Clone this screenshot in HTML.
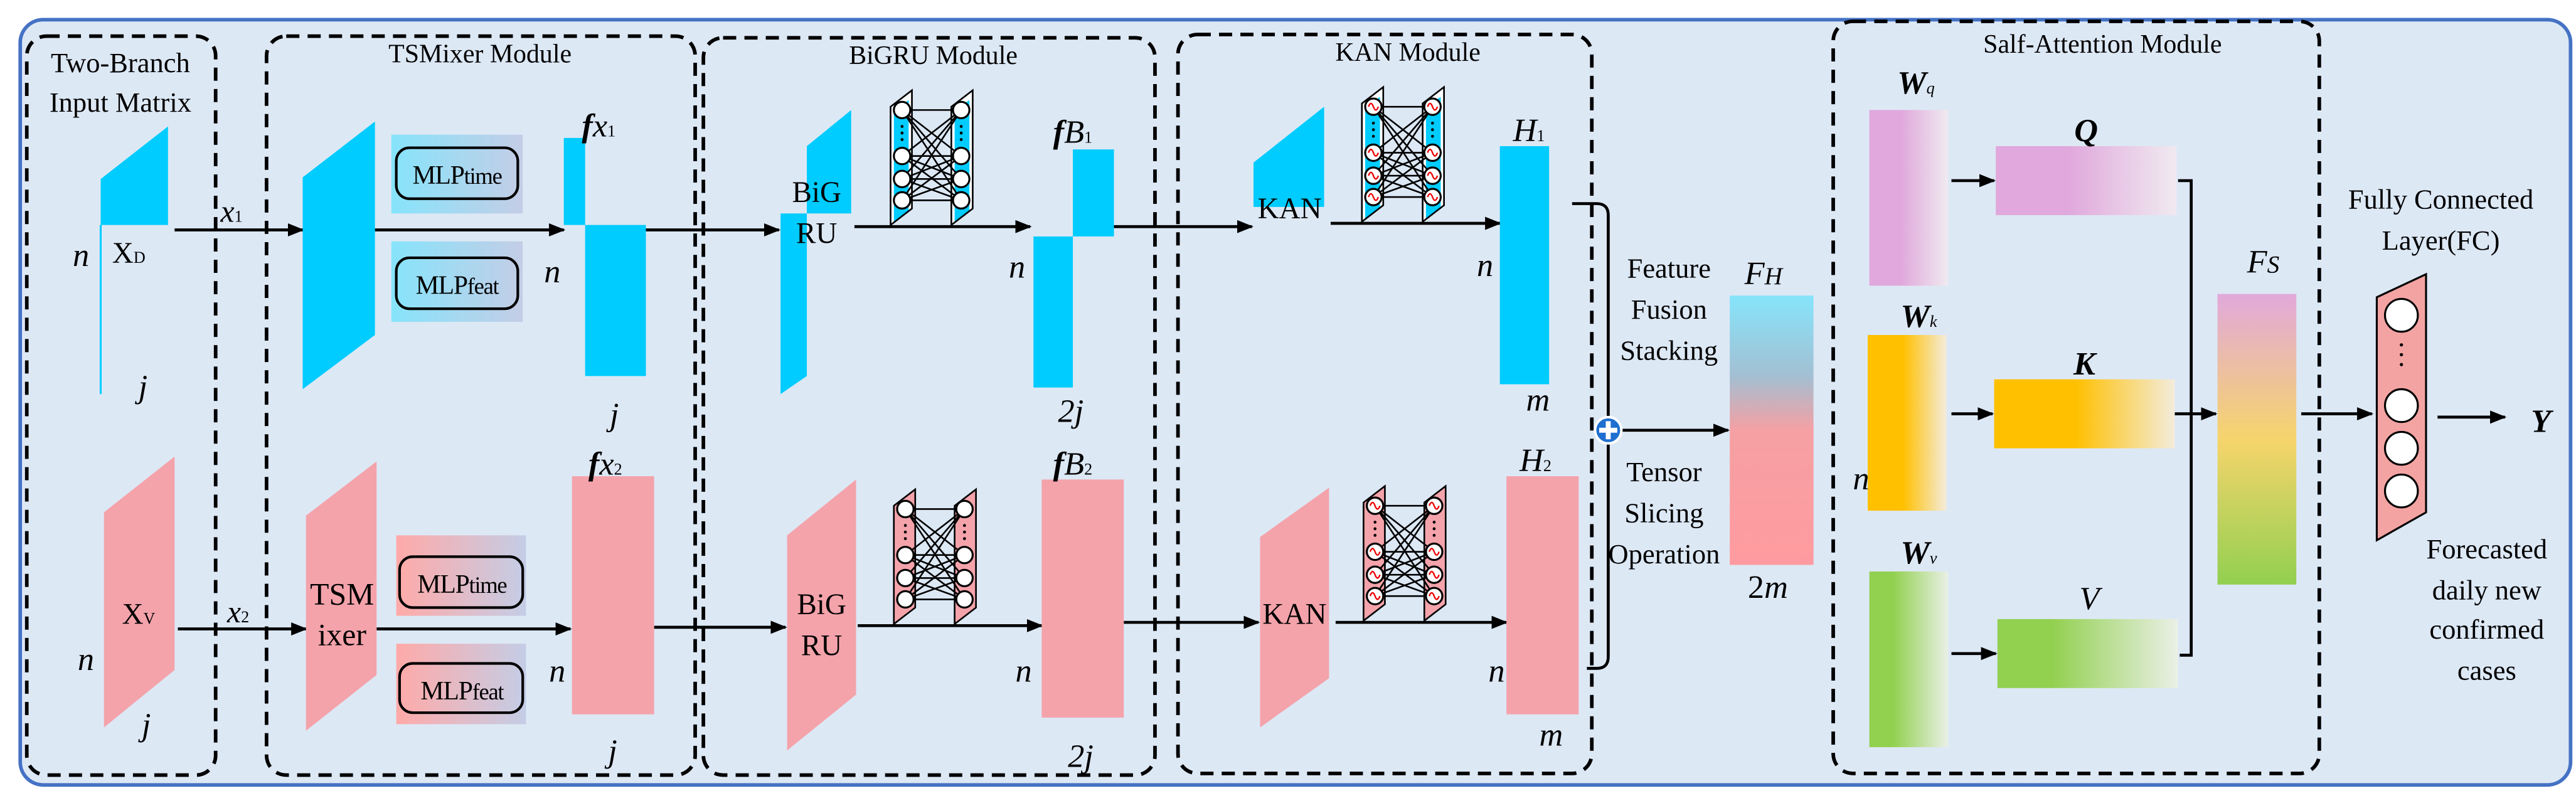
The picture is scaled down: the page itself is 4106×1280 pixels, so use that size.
<!DOCTYPE html>
<html><head><meta charset="utf-8"><style>
html,body{margin:0;padding:0;background:#fff;}
svg{display:block;}
.s{font-family:"Liberation Serif",serif;fill:#000;}
</style></head><body>
<svg width="4106" height="1280" viewBox="0 0 1568 489" xmlns="http://www.w3.org/2000/svg">
<defs>
<marker id="ah" markerWidth="10" markerHeight="8" refX="9" refY="4" orient="auto" markerUnits="userSpaceOnUse">
<path d="M0,0 L10,4 L0,8 Z" fill="#000"/></marker>
<linearGradient id="gc" x1="0" x2="1"><stop offset="0" stop-color="#86e4fb"/><stop offset="1" stop-color="#c4cde6"/></linearGradient>
<linearGradient id="gp" x1="0" x2="1"><stop offset="0" stop-color="#ffaaa8"/><stop offset="1" stop-color="#c4cde6"/></linearGradient>
<linearGradient id="gfh" x1="0" y1="0" x2="0" y2="1"><stop offset="0" stop-color="#86e4fb"/><stop offset="0.3" stop-color="#a3bfd2"/><stop offset="0.5" stop-color="#f5a0a3"/><stop offset="1" stop-color="#ff9ba0"/></linearGradient>
<linearGradient id="gfs" x1="0" y1="0" x2="0" y2="1"><stop offset="0" stop-color="#e1a9db"/><stop offset="0.5" stop-color="#f6d46c"/><stop offset="1" stop-color="#92d050"/></linearGradient>
<linearGradient id="gq" x1="0" x2="1"><stop offset="0" stop-color="#e0a8dc"/><stop offset="0.4" stop-color="#e0a8dc"/><stop offset="1" stop-color="#f0eaf0"/></linearGradient>
<linearGradient id="gk" x1="0" x2="1"><stop offset="0" stop-color="#ffc000"/><stop offset="0.45" stop-color="#ffc000"/><stop offset="1" stop-color="#f3ecdc"/></linearGradient>
<linearGradient id="gv" x1="0" x2="1"><stop offset="0" stop-color="#92d050"/><stop offset="0.3" stop-color="#92d050"/><stop offset="1" stop-color="#eaf0e6"/></linearGradient>
<g id="nnc">
<polygon points="0,10 13,0 13,72 0,82" fill="none" stroke="#000" stroke-width="1"/>
<polygon points="37,10 50,0 50,72 37,82" fill="none" stroke="#000" stroke-width="1"/>
<g stroke="#000" stroke-width="1">
<line x1="7" y1="12" x2="43" y2="12"/><line x1="7" y1="40" x2="43" y2="40"/><line x1="7" y1="54" x2="43" y2="54"/><line x1="7" y1="67" x2="43" y2="67"/>
<line x1="7" y1="12" x2="43" y2="40"/><line x1="7" y1="12" x2="43" y2="54"/><line x1="7" y1="12" x2="43" y2="67"/>
<line x1="7" y1="40" x2="43" y2="12"/><line x1="7" y1="40" x2="43" y2="54"/><line x1="7" y1="40" x2="43" y2="67"/>
<line x1="7" y1="54" x2="43" y2="12"/><line x1="7" y1="54" x2="43" y2="40"/><line x1="7" y1="54" x2="43" y2="67"/>
<line x1="7" y1="67" x2="43" y2="12"/><line x1="7" y1="67" x2="43" y2="40"/><line x1="7" y1="67" x2="43" y2="54"/>
</g>
<g fill="#000"><circle cx="7" cy="22" r="0.9"/><circle cx="7" cy="26" r="0.9"/><circle cx="7" cy="30" r="0.9"/><circle cx="43" cy="22" r="0.9"/><circle cx="43" cy="26" r="0.9"/><circle cx="43" cy="30" r="0.9"/></g>
<g fill="#fff" stroke="#000" stroke-width="1.2">
<circle cx="7" cy="12" r="5"/><circle cx="7" cy="40" r="5"/><circle cx="7" cy="54" r="5"/><circle cx="7" cy="67" r="5"/>
<circle cx="43" cy="12" r="5"/><circle cx="43" cy="40" r="5"/><circle cx="43" cy="54" r="5"/><circle cx="43" cy="67" r="5"/>
</g>
</g>
<g id="cpan">
<polygon points="0,10 13,0 13,72 0,82" fill="#fff"/><polygon points="37,10 50,0 50,72 37,82" fill="#fff"/>
<polygon points="2,12 11,6 11,74 2,80" fill="#00ccff"/><polygon points="39,12 48,6 48,74 39,80" fill="#00ccff"/>
</g>
<g id="ppan">
<polygon points="0,10 13,0 13,72 0,82" fill="#f4a3ab"/><polygon points="37,10 50,0 50,72 37,82" fill="#f4a3ab"/>
</g>
<g id="sine" fill="none" stroke="#e00" stroke-width="0.9">
<path d="M4,12 q1.5,-4 3,0 q1.5,4 3,0"/><path d="M4,40 q1.5,-4 3,0 q1.5,4 3,0"/><path d="M4,54 q1.5,-4 3,0 q1.5,4 3,0"/><path d="M4,67 q1.5,-4 3,0 q1.5,4 3,0"/>
<path d="M40,12 q1.5,-4 3,0 q1.5,4 3,0"/><path d="M40,40 q1.5,-4 3,0 q1.5,4 3,0"/><path d="M40,54 q1.5,-4 3,0 q1.5,4 3,0"/><path d="M40,67 q1.5,-4 3,0 q1.5,4 3,0"/>
</g>
</defs>

<rect x="12" y="12" width="1553" height="466" rx="14" fill="#dde8f5" stroke="#4472c4" stroke-width="2.2"/>

<g fill="none" stroke="#000" stroke-width="2.2" stroke-dasharray="8,5">
<rect x="16" y="22" width="115" height="450" rx="12"/>
<rect x="162" y="22" width="261" height="450" rx="12"/>
<rect x="428" y="23" width="275" height="449" rx="12"/>
<rect x="717" y="21" width="252" height="450" rx="12"/>
<rect x="1116" y="13" width="296" height="458" rx="12"/>
</g>

<text class="s" x="73" y="44" text-anchor="middle" font-size="17">Two-Branch</text>
<text class="s" x="73" y="68" text-anchor="middle" font-size="17">Input Matrix</text>
<text class="s" x="292" y="38" text-anchor="middle" font-size="16">TSMixer Module</text>
<text class="s" x="568" y="39" text-anchor="middle" font-size="16">BiGRU Module</text>
<text class="s" x="857" y="37" text-anchor="middle" font-size="16">KAN Module</text>
<text class="s" x="1280" y="32" text-anchor="middle" font-size="16">Salf-Attention Module</text>

<polygon points="61,109 102,77 102,137 61,137" fill="#00ccff"/>
<line x1="61" y1="137" x2="61" y2="240" stroke="#00ccff" stroke-width="1.2"/>
<text class="s" x="68" y="160" font-size="18">X<tspan font-size="10">D</tspan></text>
<text class="s" x="44" y="162" font-size="20" font-style="italic">n</text>
<text class="s" x="84" y="242" font-size="20" font-style="italic">j</text>
<polygon points="63,312 106,278 106,408 63,443" fill="#f4a3ab"/>
<text class="s" x="74" y="380" font-size="18">X<tspan font-size="10">V</tspan></text>
<text class="s" x="47" y="408" font-size="20" font-style="italic">n</text>
<text class="s" x="86" y="448" font-size="20" font-style="italic">j</text>

<g stroke="#000" stroke-width="1.8" marker-end="url(#ah)" fill="none">
<line x1="106" y1="140" x2="184" y2="140"/>
<line x1="108" y1="383" x2="186" y2="383"/>
<line x1="228" y1="140" x2="343" y2="140"/>
<line x1="229" y1="383" x2="347" y2="383"/>
<line x1="393" y1="140" x2="474" y2="140"/>
<line x1="398" y1="382" x2="478" y2="382"/>
<line x1="520" y1="138" x2="627" y2="138"/>
<line x1="522" y1="381" x2="634" y2="381"/>
<line x1="678" y1="138" x2="762" y2="138"/>
<line x1="684" y1="379" x2="766" y2="379"/>
<line x1="810" y1="136" x2="913" y2="136"/>
<line x1="813" y1="379" x2="917" y2="379"/>
<line x1="987" y1="262" x2="1052" y2="262"/>
<line x1="1188" y1="110" x2="1214" y2="110"/>
<line x1="1188" y1="252" x2="1213" y2="252"/>
<line x1="1188" y1="398" x2="1215" y2="398"/>
<line x1="1334" y1="252" x2="1349" y2="252"/>
<line x1="1401" y1="252" x2="1444" y2="252"/>
<line x1="1484" y1="254" x2="1525" y2="254"/>
</g>
<text class="s" x="134" y="135" font-size="19" font-style="italic">x<tspan font-size="10" font-style="normal">1</tspan></text>
<text class="s" x="138" y="379" font-size="19" font-style="italic">x<tspan font-size="10" font-style="normal">2</tspan></text>

<polygon points="184,108 228,74 228,204 184,237" fill="#00ccff"/>
<rect x="238" y="82" width="80" height="48" fill="url(#gc)"/>
<rect x="241" y="90" width="74" height="31" rx="8" fill="none" stroke="#000" stroke-width="1.6"/>
<text class="s" x="278" y="112" text-anchor="middle" font-size="16" letter-spacing="-0.5">MLP<tspan font-size="14">time</tspan></text>
<rect x="238" y="147" width="80" height="49" fill="url(#gc)"/>
<rect x="241" y="157" width="74" height="31" rx="8" fill="none" stroke="#000" stroke-width="1.6"/>
<text class="s" x="278" y="179" text-anchor="middle" font-size="16" letter-spacing="-0.5">MLP<tspan font-size="14">feat</tspan></text>
<rect x="343" y="84" width="13" height="53" fill="#00ccff"/>
<rect x="356" y="137" width="37" height="92" fill="#00ccff"/>
<text class="s" x="354" y="83" font-size="20" font-style="italic" font-weight="bold">f<tspan font-weight="normal">x</tspan><tspan font-size="10" font-style="normal" font-weight="normal">1</tspan></text>
<text class="s" x="331" y="172" font-size="20" font-style="italic">n</text>
<text class="s" x="371" y="259" font-size="20" font-style="italic">j</text>

<polygon points="186,314 229,281 229,411 186,445" fill="#f4a3ab"/>
<text class="s" x="208" y="368" font-size="19" text-anchor="middle">TSM</text>
<text class="s" x="208" y="393" font-size="19" text-anchor="middle">ixer</text>
<rect x="241" y="326" width="79" height="49" fill="url(#gp)"/>
<rect x="243" y="339" width="75" height="31" rx="8" fill="none" stroke="#000" stroke-width="1.6"/>
<text class="s" x="281" y="361" text-anchor="middle" font-size="16" letter-spacing="-0.5">MLP<tspan font-size="14">time</tspan></text>
<rect x="241" y="392" width="79" height="49" fill="url(#gp)"/>
<rect x="243" y="404" width="75" height="30" rx="8" fill="none" stroke="#000" stroke-width="1.6"/>
<text class="s" x="281" y="426" text-anchor="middle" font-size="16" letter-spacing="-0.5">MLP<tspan font-size="14">feat</tspan></text>
<rect x="348" y="290" width="50" height="145" fill="#f4a3ab"/>
<text class="s" x="358" y="289" font-size="20" font-style="italic" font-weight="bold">f<tspan font-weight="normal">x</tspan><tspan font-size="10" font-style="normal" font-weight="normal">2</tspan></text>
<text class="s" x="334" y="415" font-size="20" font-style="italic">n</text>
<text class="s" x="370" y="464" font-size="20" font-style="italic">j</text>

<polygon points="491,89 518,67 518,130 491,130" fill="#00ccff"/>
<polygon points="475,130 491,130 491,229 475,240" fill="#00ccff"/>
<text class="s" x="497" y="123" font-size="18" text-anchor="middle">BiG</text>
<text class="s" x="497" y="148" font-size="18" text-anchor="middle">RU</text>
<g transform="translate(542,55)"><use href="#cpan"/><use href="#nnc"/></g>
<rect x="653" y="91" width="25" height="53" fill="#00ccff"/>
<rect x="629" y="144" width="24" height="92" fill="#00ccff"/>
<text class="s" x="641" y="87" font-size="20" font-style="italic" font-weight="bold">f<tspan font-weight="normal">B</tspan><tspan font-size="10" font-style="normal" font-weight="normal">1</tspan></text>
<text class="s" x="614" y="169" font-size="20" font-style="italic">n</text>
<text class="s" x="644" y="257" font-size="20" font-style="italic">2j</text>

<polygon points="479,326 521,292 521,423 479,457" fill="#f4a3ab"/>
<text class="s" x="500" y="374" font-size="18" text-anchor="middle">BiG</text>
<text class="s" x="500" y="399" font-size="18" text-anchor="middle">RU</text>
<g transform="translate(544,298)"><use href="#ppan"/><use href="#nnc"/></g>
<rect x="634" y="292" width="50" height="145" fill="#f4a3ab"/>
<text class="s" x="641" y="289" font-size="20" font-style="italic" font-weight="bold">f<tspan font-weight="normal">B</tspan><tspan font-size="10" font-style="normal" font-weight="normal">2</tspan></text>
<text class="s" x="618" y="415" font-size="20" font-style="italic">n</text>
<text class="s" x="650" y="467" font-size="20" font-style="italic">2j</text>

<polygon points="763,99 806,65 806,126 763,126" fill="#00ccff"/>
<text class="s" x="785" y="133" font-size="18" text-anchor="middle">KAN</text>
<g transform="translate(829,53)"><use href="#cpan"/><use href="#nnc"/><use href="#sine"/></g>
<rect x="913" y="89" width="30" height="145" fill="#00ccff"/>
<text class="s" x="921" y="86" font-size="20" font-style="italic">H<tspan font-size="10" font-style="normal">1</tspan></text>
<text class="s" x="899" y="168" font-size="20" font-style="italic">n</text>
<text class="s" x="929" y="250" font-size="20" font-style="italic">m</text>

<polygon points="767,327 809,297 809,413 767,443" fill="#f4a3ab"/>
<text class="s" x="788" y="380" font-size="18" text-anchor="middle">KAN</text>
<g transform="translate(830,296)"><use href="#ppan"/><use href="#nnc"/><use href="#sine"/></g>
<rect x="917" y="290" width="44" height="145" fill="#f4a3ab"/>
<text class="s" x="925" y="287" font-size="20" font-style="italic">H<tspan font-size="10" font-style="normal">2</tspan></text>
<text class="s" x="906" y="415" font-size="20" font-style="italic">n</text>
<text class="s" x="937" y="454" font-size="20" font-style="italic">m</text>

<path d="M957,124 L972,124 Q979,124 979,131 L979,400 Q979,407 972,407 L966,407" fill="none" stroke="#000" stroke-width="1.8"/>
<circle cx="979" cy="262" r="8" fill="#1e6fd0" stroke="#fff" stroke-width="1.5"/>
<path d="M979,256.5 V267.5 M973.5,262 H984.5" stroke="#fff" stroke-width="3"/>
<text class="s" x="1016" y="169" font-size="17" text-anchor="middle">Feature</text>
<text class="s" x="1016" y="194" font-size="17" text-anchor="middle">Fusion</text>
<text class="s" x="1016" y="219" font-size="17" text-anchor="middle">Stacking</text>
<text class="s" x="1013" y="293" font-size="17" text-anchor="middle">Tensor</text>
<text class="s" x="1013" y="318" font-size="17" text-anchor="middle">Slicing</text>
<text class="s" x="1013" y="343" font-size="17" text-anchor="middle">Operation</text>

<rect x="1053" y="180" width="51" height="164" fill="url(#gfh)"/>
<text class="s" x="1062" y="173" font-size="20" font-style="italic">F<tspan font-size="15">H</tspan></text>
<text class="s" x="1064" y="364" font-size="20">2<tspan font-style="italic">m</tspan></text>

<rect x="1138" y="67" width="48" height="107" fill="url(#gq)"/>
<rect x="1137" y="204" width="48" height="107" fill="url(#gk)"/>
<rect x="1138" y="348" width="48" height="107" fill="url(#gv)"/>
<text class="s" x="1128" y="298" font-size="20" font-style="italic">n</text>
<text class="s" x="1155" y="57" font-size="20" font-style="italic" font-weight="bold">W<tspan font-size="10" font-weight="normal">q</tspan></text>
<text class="s" x="1157" y="199" font-size="20" font-style="italic" font-weight="bold">W<tspan font-size="10" font-weight="normal">k</tspan></text>
<text class="s" x="1157" y="343" font-size="20" font-style="italic" font-weight="bold">W<tspan font-size="10" font-weight="normal">v</tspan></text>
<rect x="1215" y="89" width="110" height="42" fill="url(#gq)"/>
<rect x="1214" y="231" width="110" height="42" fill="url(#gk)"/>
<rect x="1216" y="377" width="110" height="42" fill="url(#gv)"/>
<text class="s" x="1270" y="86" font-size="20" font-style="italic" font-weight="bold" text-anchor="middle">Q</text>
<text class="s" x="1269" y="228" font-size="20" font-style="italic" font-weight="bold" text-anchor="middle">K</text>
<text class="s" x="1272" y="371" font-size="20" font-style="italic" text-anchor="middle">V</text>
<path d="M1326,110 H1334 V399 H1327" fill="none" stroke="#000" stroke-width="1.8"/>
<line x1="1324" y1="252" x2="1334" y2="252" stroke="#000" stroke-width="1.8"/>
<rect x="1350" y="179" width="48" height="177" fill="url(#gfs)"/>
<text class="s" x="1368" y="166" font-size="20" font-style="italic">F<tspan font-size="15">S</tspan></text>

<text class="s" x="1486" y="127" font-size="17" text-anchor="middle">Fully Connected</text>
<text class="s" x="1486" y="152" font-size="17" text-anchor="middle">Layer(FC)</text>
<polygon points="1447,181 1477,167 1477,312 1447,329" fill="#f4a3a3" stroke="#000" stroke-width="1.2"/>
<g fill="#fff" stroke="#000" stroke-width="1.2">
<circle cx="1462" cy="192" r="10"/><circle cx="1462" cy="247" r="10"/><circle cx="1462" cy="273" r="10"/><circle cx="1462" cy="299" r="10"/>
</g>
<g fill="#000"><circle cx="1462" cy="210" r="1"/><circle cx="1462" cy="216" r="1"/><circle cx="1462" cy="222" r="1"/></g>
<text class="s" x="1547" y="263" font-size="20" font-style="italic" font-weight="bold" text-anchor="middle">Y</text>
<text class="s" x="1514" y="340" font-size="17" text-anchor="middle">Forecasted</text>
<text class="s" x="1514" y="365" font-size="17" text-anchor="middle">daily new</text>
<text class="s" x="1514" y="389" font-size="17" text-anchor="middle">confirmed</text>
<text class="s" x="1514" y="414" font-size="17" text-anchor="middle">cases</text>
</svg>
</body></html>
